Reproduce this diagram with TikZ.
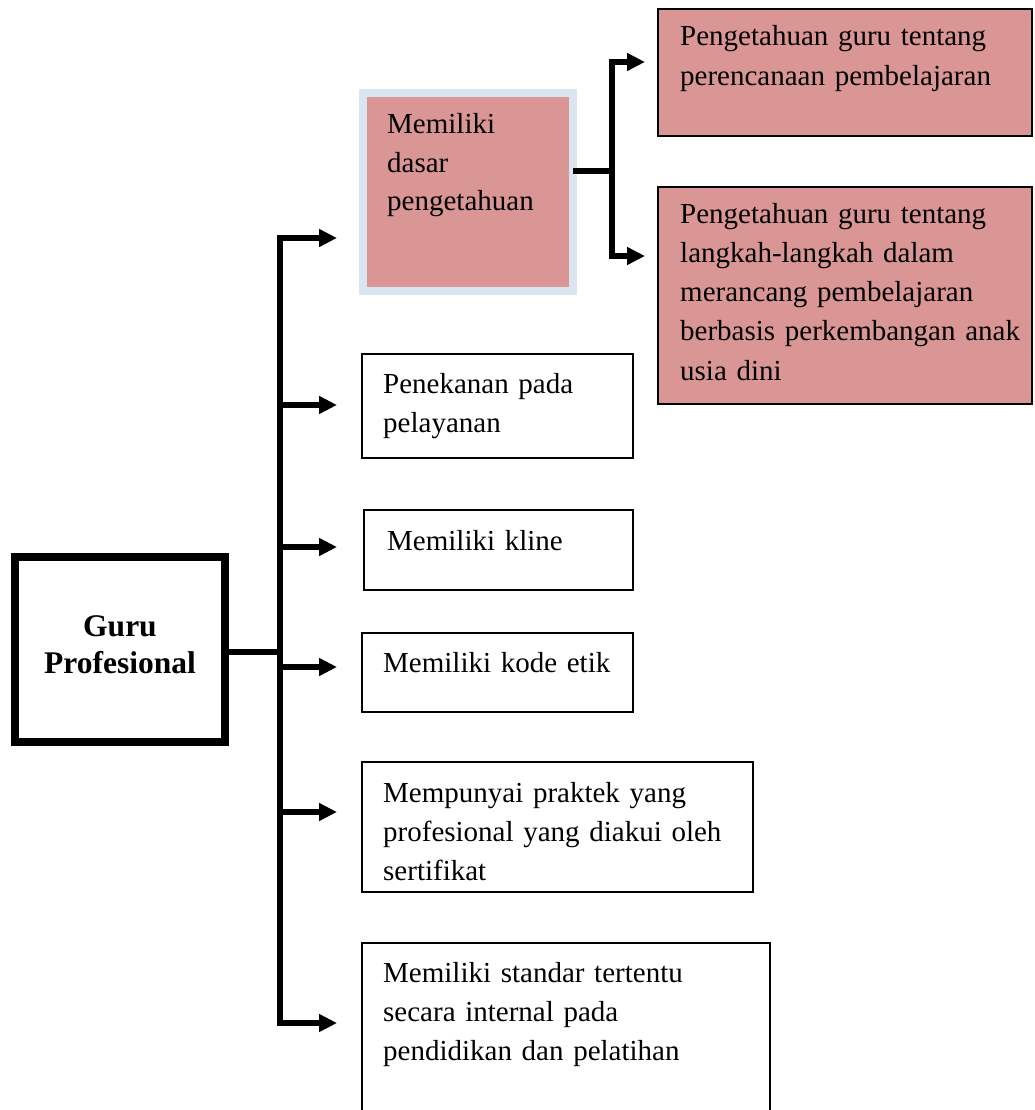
\documentclass[tikz,border=0pt]{standalone}
\usepackage{fontspec}
\setmainfont{Liberation Serif}
\usetikzlibrary{arrows.meta}
\definecolor{pinkfill}{RGB}{217,150,148}
\definecolor{paleblue}{RGB}{219,229,241}
\begin{document}
\begin{tikzpicture}[x=1pt,y=-1pt,
  box/.style={draw=black, line width=1.8pt, outer sep=0pt, inner sep=0pt, rectangle},
  pinkbox/.style={box, fill=pinkfill},
  txt/.style={anchor=base west, inner sep=0pt, align=left, text width=360pt, font=\fontsize{29}{39.3}\selectfont},
  conn/.style={line width=5.5pt, line join=miter},
  tip/.tip={Triangle[length=18pt,width=17pt]},
  arr/.style={conn, -tip},
  arr2/.style={conn, tip-tip},
]
\useasboundingbox (0,0) rectangle (1034,1110);
\clip (0,0) rectangle (1034,1110);

% central box
\node[box, line width=8pt, minimum width=210pt, minimum height=185.5pt] (g) at (120,649.25) {};
\node[txt, anchor=base, align=center, text width=200pt, font=\bfseries\fontsize{31.5}{37}\selectfont] (gt) at (120,636) {Guru\\Profesional};

% first branch box
\node[pinkbox, draw=paleblue, line width=8pt, minimum width=210pt, minimum height=197pt] (b1) at (468,192) {};
\node[txt, text width=180pt, font=\fontsize{29}{38.5}\selectfont] (b1t) at (387,134) {Memiliki\\dasar\\pengetahuan};

% right pink boxes
\node[pinkbox, minimum width=374pt, minimum height=127pt] (r1) at (845,72.5) {};
\node[txt, text width=340pt] (r1t) at (680,46) {Pengetahuan guru tentang\\perencanaan pembelajaran};
\node[pinkbox, minimum width=374pt, minimum height=217pt] (r2) at (845,295.5) {};
\node[txt, text width=340pt] (r2t) at (680,223) {Pengetahuan guru tentang\\langkah-langkah dalam\\merancang pembelajaran\\berbasis perkembangan anak\\usia dini};

% white boxes
\node[box, minimum width=271pt, minimum height=104pt] (w2) at (497.5,406) {};
\node[txt] (w2t) at (383,393) {Penekanan pada\\pelayanan};
\node[box, minimum width=269pt, minimum height=80pt] (w3) at (498.5,550) {};
\node[txt] (w3t) at (387,550) {Memiliki kline};
\node[box, minimum width=271pt, minimum height=79pt] (w4) at (497.5,672.5) {};
\node[txt] (w4t) at (383,672) {Memiliki kode etik};
\node[box, minimum width=391pt, minimum height=130pt] (w5) at (557.5,827) {};
\node[txt] (w5t) at (383,802) {Mempunyai praktek yang\\profesional yang diakui oleh\\sertifikat};
\node[box, minimum width=408pt, minimum height=197pt] (w6) at (566,1041.5) {};
\node[txt] (w6t) at (383,982) {Memiliki standar tertentu\\secara internal pada\\pendidikan dan pelatihan};

% trunk coordinates
\coordinate (gj) at (280,652);
\coordinate (t1) at (280,238);
\coordinate (t2) at (280,405);
\coordinate (t3) at (280,547);
\coordinate (t4) at (280,667);
\coordinate (t5) at (280,812);
\coordinate (t6) at (280,1023);

\draw[conn] (gj -| g.east) -- (gj);
\draw[arr2, shorten <=26pt, shorten >=25pt] (t1 -| b1.west) -- (t1) -- (t6) -- (t6 -| w6.west);
\draw[arr, shorten >=25pt] (t2) -- (t2 -| w2.west);
\draw[arr, shorten >=27pt] (t3) -- (t3 -| w3.west);
\draw[arr, shorten >=25pt] (t4) -- (t4 -| w4.west);
\draw[arr, shorten >=25pt] (t5) -- (t5 -| w5.west);

% sub connector
\coordinate (s0) at (612,171);
\coordinate (s1) at (612,62);
\coordinate (s2) at (612,256);
\draw[conn] (s0 -| b1.east) -- (s0);
\draw[arr2, shorten <=13pt, shorten >=13pt] (s1 -| r1.west) -- (s1) -- (s2) -- (s2 -| r2.west);
\end{tikzpicture}
\end{document}
